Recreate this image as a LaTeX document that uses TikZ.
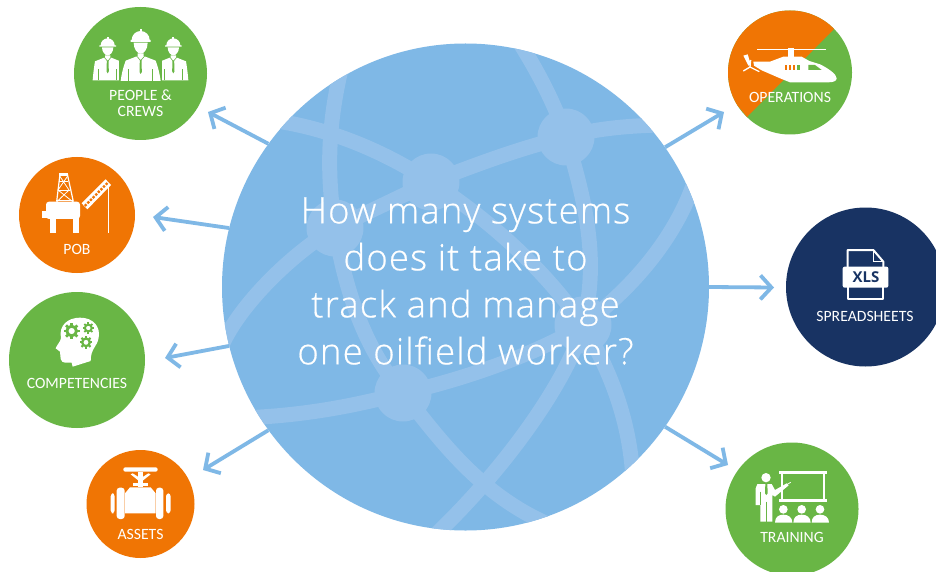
\documentclass[tikz,border=0pt]{standalone}
\usepackage{fontspec}
\setmainfont{Carlito}
\newfontfamily\bigfont{Open Sans}[UprightFont=* Light,LetterSpace=3.2,FakeBold=0.5]
\newfontfamily\xlsfont{Open Sans}[UprightFont=* Bold]
\usetikzlibrary{arrows.meta,calc}
\definecolor{cgreen}{HTML}{69B645}
\definecolor{corange}{HTML}{F07504}
\definecolor{cnavy}{HTML}{183363}
\definecolor{cblue}{HTML}{7FB8E6}
\definecolor{cband}{HTML}{94C1EA}
\tikzset{
  bub/.style={circle,minimum size=#1,inner sep=0pt,draw=none},
  lab/.style={text=white,font=\fontsize{15.7}{16}\selectfont,align=center,inner sep=0pt},
  spoke/.style={draw=cblue,line width=3.8pt,-{Straight Barb[length=11pt,width=24pt,line width=3.8pt]}},
  band/.style={draw=cband,line width=15pt},
  zoomed/.style={shift={#1},scale=0.33333},
}
% worker: head centre at (0,0) in zoom units
\newcommand{\worker}[1]{%
  \begin{scope}[shift={#1}]
    \fill[white] (-21,-12) arc[start angle=180,end angle=360,radius=21] -- (25,-12) -- (25,-8) -- (-25,-8) -- (-25,-12) -- cycle;
    \fill[white] (-3,-36) rectangle (3,-30);
    \fill[white] (-17,-6) -- (17,-6) .. controls (17,8) and (8,18) .. (0,18) .. controls (-8,18) and (-17,8) .. (-17,-6) -- cycle;
    \fill[white] (-8,18) -- (-8,24) -- (-38,36) .. controls (-42,60) and (-44,80) .. (-45,93) -- (45,93) .. controls (44,80) and (42,60) .. (38,36) -- (8,24) -- (8,18) -- cycle;
    \draw[cgreen,line width=0.6pt] (-10,24) -- (0,36) -- (10,24);
    \fill[cgreen] (-2.5,34) -- (2.5,34) -- (3.5,66) -- (0,72) -- (-3.5,66) -- cycle;
    \draw[cgreen,line width=0.6pt] (-27,60) -- (-27,93) (27,60) -- (27,93);
  \end{scope}}
% gear: centre, outer radius
\newcommand{\gearicon}[2]{%
  \draw[cgreen,line width=#2*0.12pt] #1 circle[radius=#2*0.6];
  \foreach \a in {0,45,...,315}{\draw[cgreen,line width=#2*0.11pt] #1 ++(\a:#2*0.7) -- ++(\a:#2*0.3);}
}
\begin{document}
\begin{tikzpicture}[x=1pt,y=-1pt]
\useasboundingbox (0,0) rectangle (936,572);
\fill[white] (0,0) rectangle (936,572);

% hub
\node[bub=487pt,fill=cblue] (hub) at (465.5,287) {};
\begin{scope}
  \clip (465.5,287) circle[radius=243.5];
  \coordinate (n1) at (566,137);
  \coordinate (n2) at (431,182);
  \coordinate (n3) at (335,228);
  \coordinate (n4) at (403,393);
  \coordinate (n5) at (583,325);
  \draw[band] (270,120) .. controls (330,128) and (385,152) .. (n2);
  \draw[band] (n2) .. controls (475,165) and (520,148) .. (n1);
  \draw[band] (n1) .. controls (590,130) and (620,126) .. (660,125);
  \draw[band] (n1) .. controls (555,105) and (540,75) .. (518,40);
  \draw[band] (342,65) .. controls (330,115) and (325,165) .. (n3);
  \draw[band] (n1) .. controls (585,200) and (600,260) .. (n5);
  \draw[band] (n2) -- (n3);
  \draw[band] (n2) .. controls (490,220) and (545,270) .. (n5);
  \draw[band] (n3) .. controls (290,255) and (240,305) .. (222,345);
  \draw[band] (n3) .. controls (345,290) and (365,350) .. (n4);
  \draw[band] (n4) .. controls (350,407) and (300,416) .. (240,418);
  \draw[band] (n4) .. controls (470,378) and (545,350) .. (n5);
  \draw[band] (n4) .. controls (440,440) and (480,495) .. (550,525);
  \draw[band] (n5) .. controls (570,375) and (510,465) .. (430,540);
  \draw[band] (695,180) .. controls (675,240) and (630,290) .. (n5);
  \draw[band] (n5) .. controls (610,370) and (630,420) .. (633,480);
  \foreach \n in {n1,n2,n3,n4,n5}{\fill[cband] (\n) circle[radius=28.5];}
\end{scope}

% outer nodes
\node[bub=133pt,fill=cgreen] (people) at (140.5,73.5) {};
\node[bub=116pt,fill=corange] (pob) at (77,215) {};
\node[bub=136pt,fill=cgreen] (comp) at (77,360) {};
\node[bub=108pt,fill=corange] (assets) at (140.5,504) {};
\node[bub=124pt,fill=cgreen] (ops) at (790,72.5) {};
\node[bub=159pt,fill=cnavy] (sheets) at (865.5,287) {};
\node[bub=133pt,fill=cgreen] (train) at (792,509) {};

% arrow tips
\coordinate (tpeople) at (208,112);
\coordinate (tpob) at (153,217);
\coordinate (tcomp) at (165,358);
\coordinate (tassets) at (203,470);
\coordinate (tops) at (724,112);
\coordinate (tsheets) at (774,287.5);
\coordinate (ttrain) at (728,465);
\draw[spoke] (hub.144.4) -- (tpeople);
\draw[spoke] (hub.166) -- (tpob);
\draw[spoke] (hub.194) -- (tcomp);
\draw[spoke] (hub.216.4) -- (tassets);
\draw[spoke] (hub.35.5) -- (tops);
\draw[spoke] (hub.0) -- (tsheets);
\draw[spoke] (hub.-35) -- (ttrain);

% operations split
\begin{scope}
  \clip (790,72.5) circle[radius=62];
  \fill[corange] (833,30) -- (747,117) -- (700,60) -- (760,0) -- (860,0) -- cycle;
\end{scope}

% people icon
\begin{scope}[zoomed={(60,0)}]
  \worker{(143,148)}
  \worker{(340,148)}
  \begin{scope}[shift={(242,140)}]
    \fill[cgreen] (-65,24) rectangle (65,104);
    \fill[white] (-27,-20) arc[start angle=180,end angle=360,radius=27] -- (30,-20) -- (30,-14) -- (-30,-14) -- (-30,-20) -- cycle;
    \fill[white] (-3,-52) rectangle (3,-44);
    \fill[white] (-21,-12) -- (21,-12) .. controls (21,8) and (10,21) .. (0,21) .. controls (-10,21) and (-21,8) .. (-21,-12) -- cycle;
    \fill[white] (-9,20) -- (-9,28) -- (-45,42) .. controls (-52,60) and (-58,85) .. (-60,103) -- (60,103) .. controls (58,85) and (52,60) .. (45,42) -- (9,28) -- (9,20) -- cycle;
    \draw[cgreen,line width=0.6pt] (-12,28) -- (0,42) -- (12,28);
    \fill[cgreen] (-2.5,40) -- (2.5,40) -- (3.5,76) -- (0,82) -- (-3.5,76) -- cycle;
    \draw[cgreen,line width=0.6pt] (-36,68) -- (-36,103) (36,68) -- (36,103);
  \end{scope}
\end{scope}
\node[lab] (lpeople) at (140.5,103.5) {PEOPLE \&\\[0pt]CREWS};

% POB icon
\begin{scope}[zoomed={(10,150)}]
  \fill[white,rounded corners=3pt] (108,155) rectangle (210,207);
  \fill[white] (97,182) rectangle (110,205);
  \fill[white] (120,205) rectangle (137,250);
  \fill[white] (190,205) rectangle (207,250);
  % derrick
  \draw[white,line width=1.2pt] (140,155) -- (150,72) -- (172,72) -- (190,155);
  \fill[white] (147,70) rectangle (175,78);
  \draw[white,line width=0.9pt] (148,95) -- (174,95) (145,120) -- (180,120) (141,150) -- (188,150);
  \draw[white,line width=0.8pt] (149,78) -- (177,120) -- (141,155) (173,78) -- (144,120) -- (188,155);
  % crane
  \fill[white] (215,160) -- (287,88) -- (303,105) -- (232,178) -- cycle;
  \foreach \t in {0.05,0.16,...,0.97}{
    \fill[corange] ($(223.5,169)!\t!(295,96.5)$) +(-5,0) -- +(0,-5) -- +(5,0) -- +(0,5) -- cycle;
  }
  \draw[white,line width=1.2pt] (295,105) -- (295,248);
\end{scope}
\node[lab] (lpob) at (77,249.5) {POB};

% competencies icon
\begin{scope}[zoomed={(0,285)}]
  \fill[white] (218,245) -- (215,233) .. controls (205,232) and (185,238) .. (182,222)
    -- (180,200) -- (167,190) .. controls (172,178) and (180,172) .. (183,160)
    .. controls (175,120) and (205,98) .. (240,98)
    .. controls (280,98) and (302,125) .. (296,158)
    .. controls (292,185) and (272,190) .. (272,228) -- cycle;
  \gearicon{(215,138)}{24}
  \gearicon{(265,129)}{17}
  \gearicon{(258,172)}{19}
\end{scope}
\node[lab] (lcomp) at (77,383) {COMPETENCIES};

% assets icon
\begin{scope}[zoomed={(80,445)}]
  \fill[white,rounded corners=2pt] (130,67) rectangle (233,80);
  \fill[white] (173,80) rectangle (190,125);
  \fill[white] (152,88) -- (158,85) -- (182,100) -- (205,85) -- (212,88) -- (182,112) -- cycle;
  \fill[white] (160,115) rectangle (203,124);
  \fill[white] (135,145) -- (150,127) -- (212,127) -- (227,145) -- (227,205) -- (135,205) -- cycle;
  \fill[white,rounded corners=3pt] (110,128) rectangle (134,222);
  \fill[white,rounded corners=3pt] (228,128) rectangle (250,222);
  \fill[white,rounded corners=3pt] (92,145) rectangle (104,205);
  \fill[white,rounded corners=3pt] (258,145) rectangle (272,205);
\end{scope}
\node[lab] (lassets) at (140.5,534.5) {ASSETS};

% operations icon
\begin{scope}[zoomed={(720,5)}]
  \fill[white] (112,132) rectangle (317,136);
  \fill[white] (205,128) rectangle (222,156);
  \fill[white] (100,170) -- (150,170) -- (190,155) -- (245,155) -- (268,168) -- (300,178)
    .. controls (325,190) and (350,208) .. (350,220) .. controls (350,228) and (340,232) .. (325,232)
    -- (210,232) -- (185,222) -- (125,196) -- (102,182) -- cycle;
  \fill[white] (70,152) -- (83,148) -- (93,180) -- (85,182) -- cycle;
  \draw[white,line width=1.3pt] (70,198) -- (90,186) -- (118,200) (90,186) -- (92,165);
  \foreach \xx in {194,206,218}{\fill[corange] (\xx,181) rectangle (\xx+8,195);}
  \fill[cgreen] (230,181) rectangle (240,195);
  \fill[cgreen] (265,180) -- (285,180) -- (305,195) -- (265,195) -- cycle;
\end{scope}
\node[lab] (lops) at (790,97.5) {OPERATIONS};

% spreadsheet icon
\begin{scope}[zoomed={(780,210)}]
  \draw[white,line width=2pt,line join=round] (203,175) -- (203,120) -- (280,120) -- (310,155) -- (310,175);
  \draw[white,line width=2pt,line join=round] (203,230) -- (203,268) -- (310,268) -- (310,230);
  \draw[white,line width=1.6pt] (280,120) -- (280,155) -- (310,155);
  \fill[white,rounded corners=2pt] (188,170) rectangle (325,233);
\end{scope}
\node[inner sep=0pt,text=cnavy,font=\xlsfont\fontsize{15}{15}\selectfont] (xls) at (866,277.5) {XLS};
\node[lab] (lsheets) at (865,316.5) {SPREADSHEETS};

% training icon
\begin{scope}[zoomed={(720,440)}]
  \fill[white] (177,93) rectangle (320,102);
  \fill[white] (177,178) rectangle (320,187);
  \fill[white] (183,100) rectangle (190,180);
  \fill[white] (308,100) rectangle (315,180);
  \fill[white] (138,113) circle[radius=14];
  \fill[white] (112,132) -- (155,132) -- (165,150) -- (200,130) -- (206,136) -- (165,170) -- (157,165) -- (157,245) -- (121,245) -- (121,195) -- (107,195) -- (107,145) -- cycle;
  \draw[white,line width=0.8pt] (190,140) -- (212,127);
  \draw[cgreen,line width=0.5pt] (139,185) -- (139,245) (120,155) -- (120,195);
  \fill[cgreen] (136,132) -- (142,132) -- (143,160) -- (139,165) -- (135,160) -- cycle;
  \foreach \xx in {190,245,300}{
    \fill[white] (\xx,208) circle[radius=13];
    \fill[white] (\xx-25,248) .. controls (\xx-25,232) and (\xx-15,224) .. (\xx,224) .. controls (\xx+15,224) and (\xx+27,232) .. (\xx+27,248) -- cycle;
  }
\end{scope}
\node[lab] (ltrain) at (792,537.5) {TRAINING};

% headline
\node[text=white,inner sep=0pt,align=center,font=\bigfont\fontsize{36.5}{47}\selectfont] (headline) at (465.5,281) {How many systems\\does it take to\\track and manage\\one oilfield worker?};
\end{tikzpicture}
\end{document}
